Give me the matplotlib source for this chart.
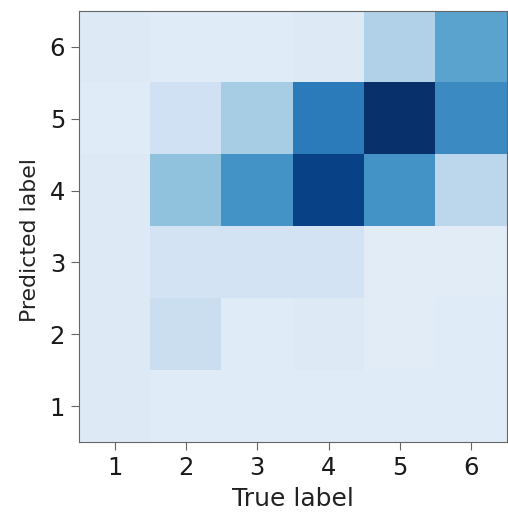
import matplotlib
matplotlib.use("Agg")
import matplotlib.pyplot as plt
import numpy as np

true_labels = [1, 2, 3, 4, 5, 6]
pred_labels = [1, 2, 3, 4, 5, 6]

# intensity per predicted label (rows), across true labels 1..6
pred_1 = [0.13, 0.12, 0.12, 0.12, 0.12, 0.12]
pred_2 = [0.13, 0.22, 0.12, 0.13, 0.11, 0.12]
pred_3 = [0.13, 0.18, 0.18, 0.18, 0.11, 0.11]
pred_4 = [0.13, 0.41, 0.62, 0.93, 0.62, 0.28]
pred_5 = [0.12, 0.20, 0.35, 0.71, 1.00, 0.65]
pred_6 = [0.13, 0.12, 0.12, 0.13, 0.32, 0.55]

M = np.array([pred_1, pred_2, pred_3, pred_4, pred_5, pred_6])

fig = plt.figure(figsize=(5.08, 5.12), dpi=100)
ax = fig.add_axes([0.1555, 0.1367, 0.8425, 0.8418])
ax.imshow(M, cmap="Blues", vmin=0, vmax=1, origin="lower",
          extent=[0.5, 6.5, 0.5, 6.5], aspect="auto", interpolation="nearest")
ax.set_xticks(true_labels)
ax.set_yticks(pred_labels)
ax.set_xticklabels([str(v) for v in true_labels])
ax.set_yticklabels([str(v) for v in pred_labels])
ax.tick_params(labelsize=17.5, colors="#666666", labelcolor="#1a1a1a",
               length=5.5, pad=4.5)
for s in ax.spines.values():
    s.set_color("#666666")
ax.set_xlabel("True label", fontsize=18, color="#222222", labelpad=5)
ax.set_ylabel("Predicted label", fontsize=15.8, color="#222222")
ax.yaxis.set_label_coords(-0.092, 0.468)
fig.savefig("out.png", dpi=100)
